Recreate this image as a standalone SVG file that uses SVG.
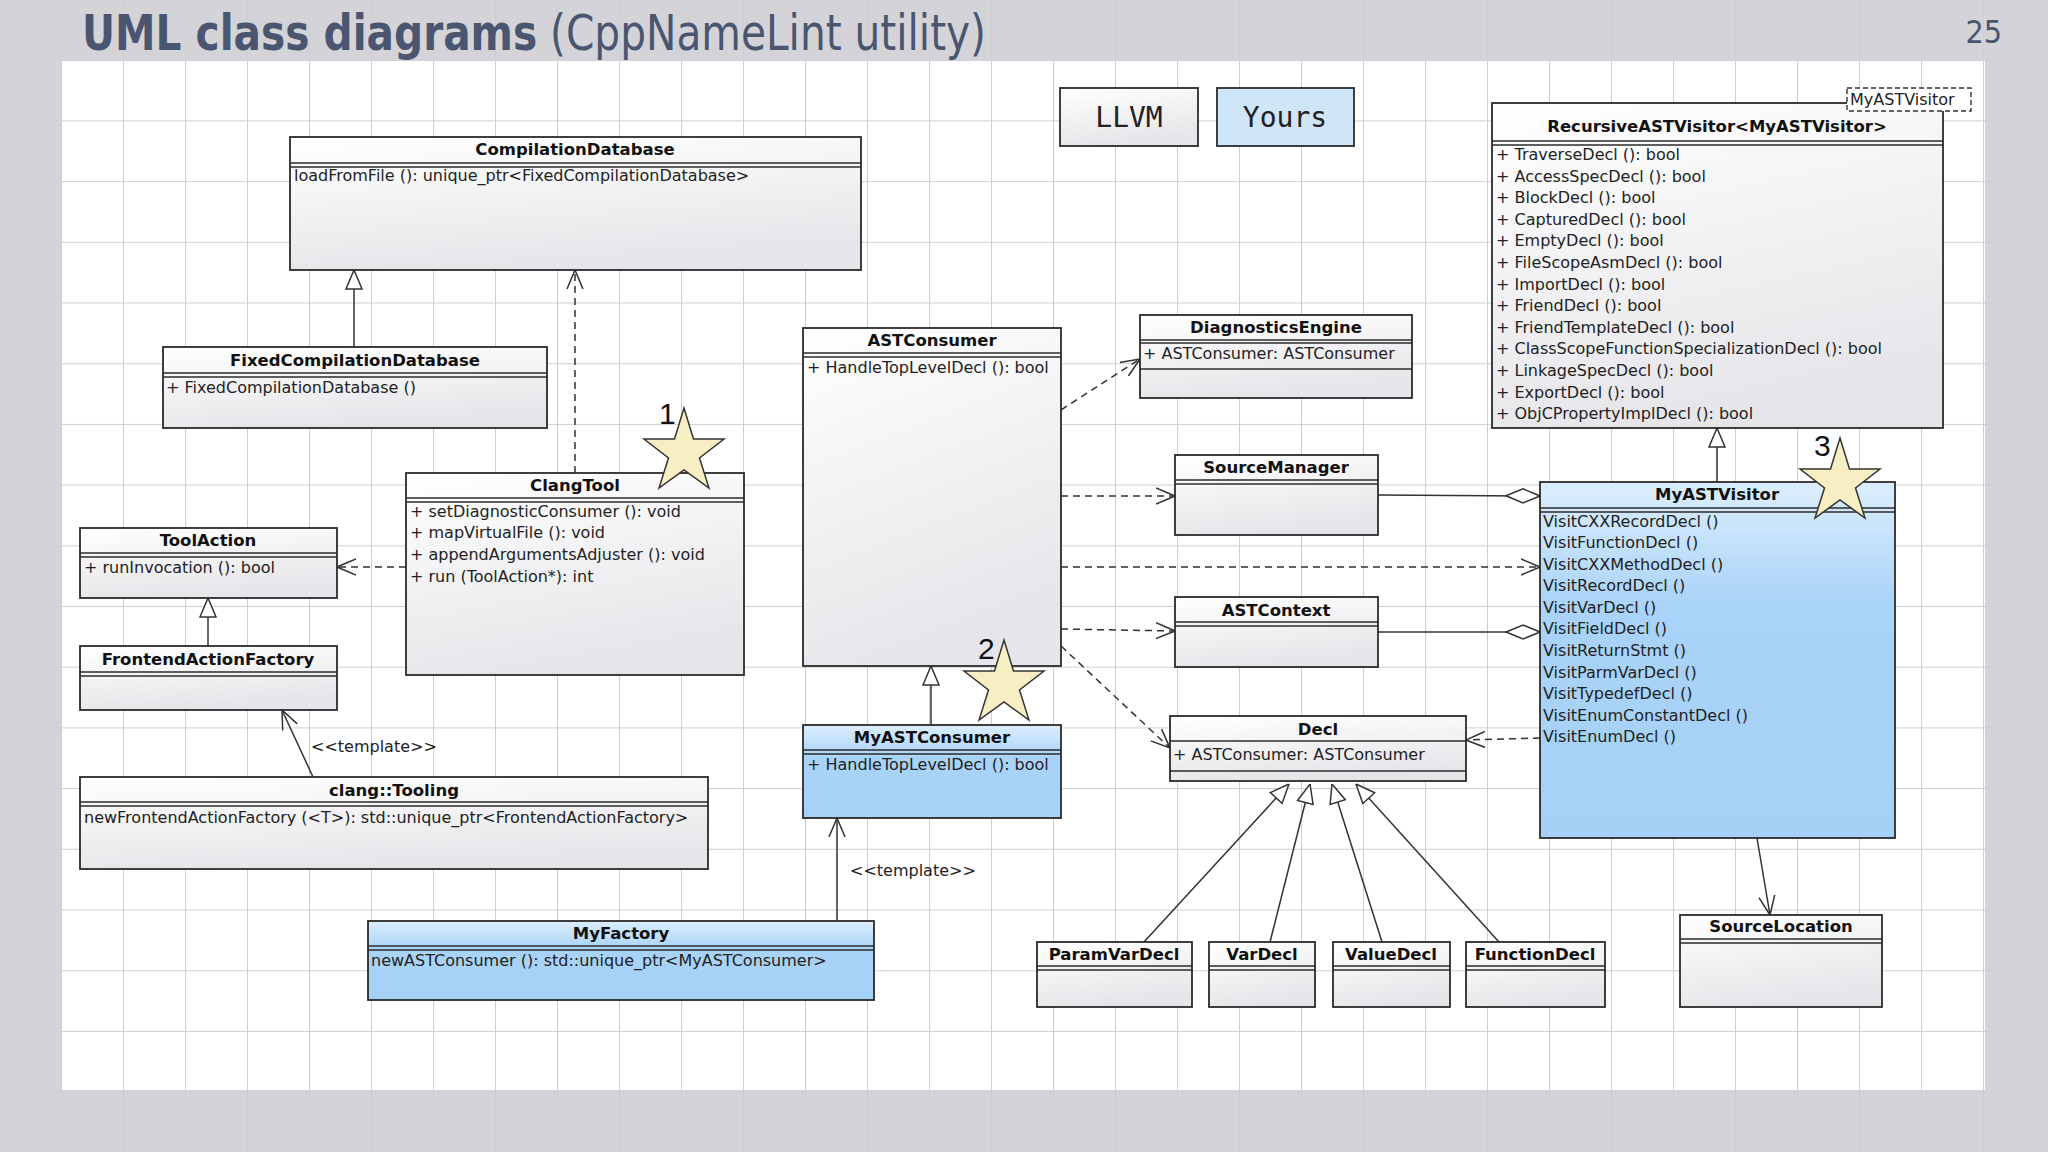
<svg xmlns="http://www.w3.org/2000/svg" width="2048" height="1152" viewBox="0 0 2048 1152">
<defs>
<pattern id="grid" x="0" y="0" width="62" height="60.7" patternUnits="userSpaceOnUse">
<path d="M62 0 V60.7 M0 60.7 H62" fill="none" stroke="#cfcfd3" stroke-width="2"/>
</pattern>
<linearGradient id="g" x1="0" y1="0" x2="0.3" y2="1"><stop offset="0" stop-color="#ffffff"/><stop offset="1" stop-color="#e6e6ea"/></linearGradient>
<linearGradient id="b" x1="0" y1="0" x2="0" y2="1"><stop offset="0" stop-color="#dceefd"/><stop offset="0.35" stop-color="#a9d3f8"/><stop offset="1" stop-color="#a6d1f7"/></linearGradient>
<marker id="tri" viewBox="0 0 20 20" refX="20" refY="10" markerWidth="20" markerHeight="20" markerUnits="userSpaceOnUse" orient="auto"><path d="M1 2 L20 10 L1 18 Z" fill="#fff" stroke="#333" stroke-width="1.5"/></marker>
<marker id="open" viewBox="0 0 20 20" refX="19" refY="10" markerWidth="20" markerHeight="20" markerUnits="userSpaceOnUse" orient="auto"><path d="M0 2 L19 10 L0 18" fill="none" stroke="#333" stroke-width="1.5"/></marker>
<marker id="dia" viewBox="0 0 36 16" refX="35" refY="8" markerWidth="36" markerHeight="16" markerUnits="userSpaceOnUse" orient="auto"><path d="M1 8 L18 1 L35 8 L18 15 Z" fill="#fff" stroke="#333" stroke-width="1.5"/></marker>
<polygon id="star" points="0,-44 9.5,-13 40,-13 15.5,6 25,36 0,18 -25,36 -15.5,6 -40,-13 -9.5,-13" fill="#f8eec4" stroke="#333" stroke-width="1.5"/>
</defs>
<style>
.box{fill:url(#g);stroke:#2b2b2b;stroke-width:1.8}
.blue{fill:url(#b);stroke:#2b2b2b;stroke-width:1.8}
.ln{stroke:#2b2b2b;stroke-width:1.6}
.t{font-family:"DejaVu Sans",sans-serif;font-weight:bold;font-size:16.5px;fill:#111;text-anchor:middle}
.m{font-family:"DejaVu Sans",sans-serif;font-size:16px;fill:#222}
.c{fill:none;stroke:#333;stroke-width:1.5}
.d{stroke-dasharray:7 5}
.num{font-family:"Liberation Sans",sans-serif;font-size:30px;fill:#111}
</style>
<rect width="2048" height="1152" fill="#d3d3d8"/>
<rect x="62" y="61" width="1923" height="1029" fill="#ffffff"/>
<rect width="2048" height="1152" fill="url(#grid)"/>
<text x="82" y="50" font-family="Ubuntu Condensed,'DejaVu Sans Condensed','Liberation Sans Narrow',sans-serif" font-stretch="condensed" font-size="50" fill="#4a5670" textLength="904" lengthAdjust="spacingAndGlyphs"><tspan font-weight="bold">UML class diagrams</tspan> (CppNameLint utility)</text>
<text x="2002" y="43" font-family="'DejaVu Sans Condensed',sans-serif" font-size="32" fill="#4a5670" text-anchor="end">25</text>

<g id="legend-llvm"><rect x="1060" y="88" width="138" height="58" class="box"/><text x="1129" y="127" font-family="'DejaVu Sans Mono','Liberation Mono',monospace" font-size="28" text-anchor="middle" fill="#222">LLVM</text></g>
<g id="legend-yours"><rect x="1217" y="88" width="137" height="58" fill="#cfe5f8" stroke="#2b2b2b" stroke-width="1.8"/><text x="1285" y="127" font-family="'DejaVu Sans Mono','Liberation Mono',monospace" font-size="28" text-anchor="middle" fill="#222">Yours</text></g>

<g id="connectors">
<line class="c" x1="354" y1="347" x2="354" y2="270" marker-end="url(#tri)"/>
<line class="c d" x1="575" y1="473" x2="575" y2="270" marker-end="url(#open)"/>
<line class="c d" x1="406" y1="567" x2="337" y2="567" marker-end="url(#open)"/>
<line class="c" x1="208" y1="646" x2="208" y2="598" marker-end="url(#tri)"/>
<line class="c" x1="313" y1="777" x2="282" y2="710" marker-end="url(#open)"/>
<line class="c" x1="837" y1="921" x2="837" y2="818" marker-end="url(#open)"/>
<line class="c" x1="931" y1="725" x2="931" y2="666" marker-end="url(#tri)"/>
<line class="c d" x1="1061" y1="410" x2="1140" y2="359" marker-end="url(#open)"/>
<line class="c d" x1="1061" y1="496" x2="1175" y2="496" marker-end="url(#open)"/>
<line class="c d" x1="1061" y1="567" x2="1540" y2="567" marker-end="url(#open)"/>
<line class="c d" x1="1061" y1="629" x2="1175" y2="631" marker-end="url(#open)"/>
<line class="c d" x1="1061" y1="646" x2="1170" y2="748" marker-end="url(#open)"/>
<line class="c" x1="1378" y1="495" x2="1540" y2="496" marker-end="url(#dia)"/>
<line class="c" x1="1378" y1="632" x2="1540" y2="632" marker-end="url(#dia)"/>
<line class="c d" x1="1540" y1="738" x2="1466" y2="740" marker-end="url(#open)"/>
<line class="c" x1="1717" y1="482" x2="1717" y2="428" marker-end="url(#tri)"/>
<line class="c" x1="1757" y1="838" x2="1770" y2="915" marker-end="url(#open)"/>
<line class="c" x1="1144" y1="942" x2="1289" y2="784" marker-end="url(#tri)"/>
<line class="c" x1="1270" y1="942" x2="1310" y2="784" marker-end="url(#tri)"/>
<line class="c" x1="1382" y1="942" x2="1332" y2="784" marker-end="url(#tri)"/>
<line class="c" x1="1499" y1="942" x2="1356" y2="784" marker-end="url(#tri)"/>
<text x="311" y="752" class="m">&lt;&lt;template&gt;&gt;</text>
<text x="850" y="876" class="m">&lt;&lt;template&gt;&gt;</text>
</g>

<g id="CompilationDatabase"><rect x="290" y="137" width="571" height="133" class="box"/><text x="575" y="155" class="t">CompilationDatabase</text><line class="ln" x1="290" y1="163" x2="861" y2="163"/><line class="ln" x1="290" y1="167" x2="861" y2="167"/><text x="294" y="181" class="m">loadFromFile (): unique_ptr&lt;FixedCompilationDatabase&gt;</text></g>
<g id="FixedCompilationDatabase"><rect x="163" y="347" width="384" height="81" class="box"/><text x="355" y="366" class="t">FixedCompilationDatabase</text><line class="ln" x1="163" y1="373" x2="547" y2="373"/><line class="ln" x1="163" y1="377" x2="547" y2="377"/><text x="166" y="393" class="m">+ FixedCompilationDatabase ()</text></g>
<g id="ClangTool"><rect x="406" y="473" width="338" height="202" class="box"/><text x="575" y="491" class="t">ClangTool</text><line class="ln" x1="406" y1="498" x2="744" y2="498"/><line class="ln" x1="406" y1="502" x2="744" y2="502"/>
<text x="410" y="517" class="m">+ setDiagnosticConsumer (): void</text><text x="410" y="538" class="m">+ mapVirtualFile (): void</text><text x="410" y="560" class="m">+ appendArgumentsAdjuster (): void</text><text x="410" y="582" class="m">+ run (ToolAction*): int</text></g>
<g id="ToolAction"><rect x="80" y="528" width="257" height="70" class="box"/><text x="208" y="546" class="t">ToolAction</text><line class="ln" x1="80" y1="553" x2="337" y2="553"/><line class="ln" x1="80" y1="557" x2="337" y2="557"/><text x="84" y="573" class="m">+ runInvocation (): bool</text></g>
<g id="FrontendActionFactory"><rect x="80" y="646" width="257" height="64" class="box"/><text x="208" y="665" class="t">FrontendActionFactory</text><line class="ln" x1="80" y1="672" x2="337" y2="672"/><line class="ln" x1="80" y1="676" x2="337" y2="676"/></g>
<g id="clangTooling"><rect x="80" y="777" width="628" height="92" class="box"/><text x="394" y="796" class="t">clang::Tooling</text><line class="ln" x1="80" y1="802" x2="708" y2="802"/><line class="ln" x1="80" y1="806" x2="708" y2="806"/><text x="84" y="823" class="m">newFrontendActionFactory (&lt;T&gt;): std::unique_ptr&lt;FrontendActionFactory&gt;</text></g>
<g id="MyFactory"><rect x="368" y="921" width="506" height="79" class="blue"/><text x="621" y="939" class="t">MyFactory</text><line class="ln" x1="368" y1="946" x2="874" y2="946"/><line class="ln" x1="368" y1="950" x2="874" y2="950"/><text x="371" y="966" class="m">newASTConsumer (): std::unique_ptr&lt;MyASTConsumer&gt;</text></g>
<g id="ASTConsumer"><rect x="803" y="328" width="258" height="338" class="box"/><text x="932" y="346" class="t">ASTConsumer</text><line class="ln" x1="803" y1="353" x2="1061" y2="353"/><line class="ln" x1="803" y1="357" x2="1061" y2="357"/><text x="807" y="373" class="m">+ HandleTopLevelDecl (): bool</text></g>
<g id="MyASTConsumer"><rect x="803" y="725" width="258" height="93" class="blue"/><text x="932" y="743" class="t">MyASTConsumer</text><line class="ln" x1="803" y1="750" x2="1061" y2="750"/><line class="ln" x1="803" y1="754" x2="1061" y2="754"/><text x="807" y="770" class="m">+ HandleTopLevelDecl (): bool</text></g>
<g id="DiagnosticsEngine"><rect x="1140" y="315" width="272" height="83" class="box"/><text x="1276" y="333" class="t">DiagnosticsEngine</text><line class="ln" x1="1140" y1="340" x2="1412" y2="340"/><line class="ln" x1="1140" y1="343" x2="1412" y2="343"/><text x="1143" y="359" class="m">+ ASTConsumer: ASTConsumer</text><line class="ln" x1="1140" y1="369" x2="1412" y2="369"/></g>
<g id="SourceManager"><rect x="1175" y="455" width="203" height="80" class="box"/><text x="1276" y="473" class="t">SourceManager</text><line class="ln" x1="1175" y1="480" x2="1378" y2="480"/><line class="ln" x1="1175" y1="484" x2="1378" y2="484"/></g>
<g id="ASTContext"><rect x="1175" y="597" width="203" height="70" class="box"/><text x="1276" y="616" class="t">ASTContext</text><line class="ln" x1="1175" y1="622" x2="1378" y2="622"/><line class="ln" x1="1175" y1="626" x2="1378" y2="626"/></g>
<g id="Decl"><rect x="1170" y="716" width="296" height="65" class="box"/><text x="1318" y="735" class="t">Decl</text><line class="ln" x1="1170" y1="741" x2="1466" y2="741"/><text x="1173" y="760" class="m">+ ASTConsumer: ASTConsumer</text><line class="ln" x1="1170" y1="771" x2="1466" y2="771"/></g>
<g id="ParamVarDecl"><rect x="1037" y="942" width="155" height="65" class="box"/><text x="1114" y="960" class="t">ParamVarDecl</text><line class="ln" x1="1037" y1="966" x2="1192" y2="966"/><line class="ln" x1="1037" y1="970" x2="1192" y2="970"/></g>
<g id="VarDecl"><rect x="1209" y="942" width="106" height="65" class="box"/><text x="1262" y="960" class="t">VarDecl</text><line class="ln" x1="1209" y1="966" x2="1315" y2="966"/><line class="ln" x1="1209" y1="970" x2="1315" y2="970"/></g>
<g id="ValueDecl"><rect x="1333" y="942" width="117" height="65" class="box"/><text x="1391" y="960" class="t">ValueDecl</text><line class="ln" x1="1333" y1="966" x2="1450" y2="966"/><line class="ln" x1="1333" y1="970" x2="1450" y2="970"/></g>
<g id="FunctionDecl"><rect x="1466" y="942" width="139" height="65" class="box"/><text x="1535" y="960" class="t">FunctionDecl</text><line class="ln" x1="1466" y1="966" x2="1605" y2="966"/><line class="ln" x1="1466" y1="970" x2="1605" y2="970"/></g>
<g id="SourceLocation"><rect x="1680" y="915" width="202" height="92" class="box"/><text x="1781" y="932" class="t">SourceLocation</text><line class="ln" x1="1680" y1="939" x2="1882" y2="939"/><line class="ln" x1="1680" y1="943" x2="1882" y2="943"/></g>
<g id="RecursiveASTVisitor"><rect x="1492" y="103" width="451" height="325" class="box"/><text x="1717" y="132" class="t">RecursiveASTVisitor&lt;MyASTVisitor&gt;</text><line class="ln" x1="1492" y1="141" x2="1943" y2="141"/><line class="ln" x1="1492" y1="145" x2="1943" y2="145"/>
<text x="1496" y="160" class="m">+ TraverseDecl (): bool</text><text x="1496" y="182" class="m">+ AccessSpecDecl (): bool</text><text x="1496" y="203" class="m">+ BlockDecl (): bool</text><text x="1496" y="225" class="m">+ CapturedDecl (): bool</text><text x="1496" y="246" class="m">+ EmptyDecl (): bool</text><text x="1496" y="268" class="m">+ FileScopeAsmDecl (): bool</text><text x="1496" y="290" class="m">+ ImportDecl (): bool</text><text x="1496" y="311" class="m">+ FriendDecl (): bool</text><text x="1496" y="333" class="m">+ FriendTemplateDecl (): bool</text><text x="1496" y="354" class="m">+ ClassScopeFunctionSpecializationDecl (): bool</text><text x="1496" y="376" class="m">+ LinkageSpecDecl (): bool</text><text x="1496" y="398" class="m">+ ExportDecl (): bool</text><text x="1496" y="419" class="m">+ ObjCPropertyImplDecl (): bool</text>
<rect x="1847" y="88" width="124" height="23" fill="#fff" stroke="#333" stroke-width="1.4" stroke-dasharray="5 3"/><text x="1850" y="105" class="m">MyASTVisitor</text></g>
<g id="MyASTVisitor"><rect x="1540" y="482" width="355" height="356" class="blue"/><text x="1717" y="500" class="t">MyASTVisitor</text><line class="ln" x1="1540" y1="508" x2="1895" y2="508"/><line class="ln" x1="1540" y1="512" x2="1895" y2="512"/>
<text x="1543" y="527" class="m">VisitCXXRecordDecl ()</text><text x="1543" y="548" class="m">VisitFunctionDecl ()</text><text x="1543" y="570" class="m">VisitCXXMethodDecl ()</text><text x="1543" y="591" class="m">VisitRecordDecl ()</text><text x="1543" y="613" class="m">VisitVarDecl ()</text><text x="1543" y="634" class="m">VisitFieldDecl ()</text><text x="1543" y="656" class="m">VisitReturnStmt ()</text><text x="1543" y="678" class="m">VisitParmVarDecl ()</text><text x="1543" y="699" class="m">VisitTypedefDecl ()</text><text x="1543" y="721" class="m">VisitEnumConstantDecl ()</text><text x="1543" y="742" class="m">VisitEnumDecl ()</text></g>

<g id="stars">
<use href="#star" x="684" y="452"/><text x="659" y="424" class="num">1</text>
<use href="#star" x="1004" y="684"/><text x="978" y="659" class="num">2</text>
<use href="#star" x="1840" y="482"/><text x="1814" y="456" class="num">3</text>
</g>
</svg>
